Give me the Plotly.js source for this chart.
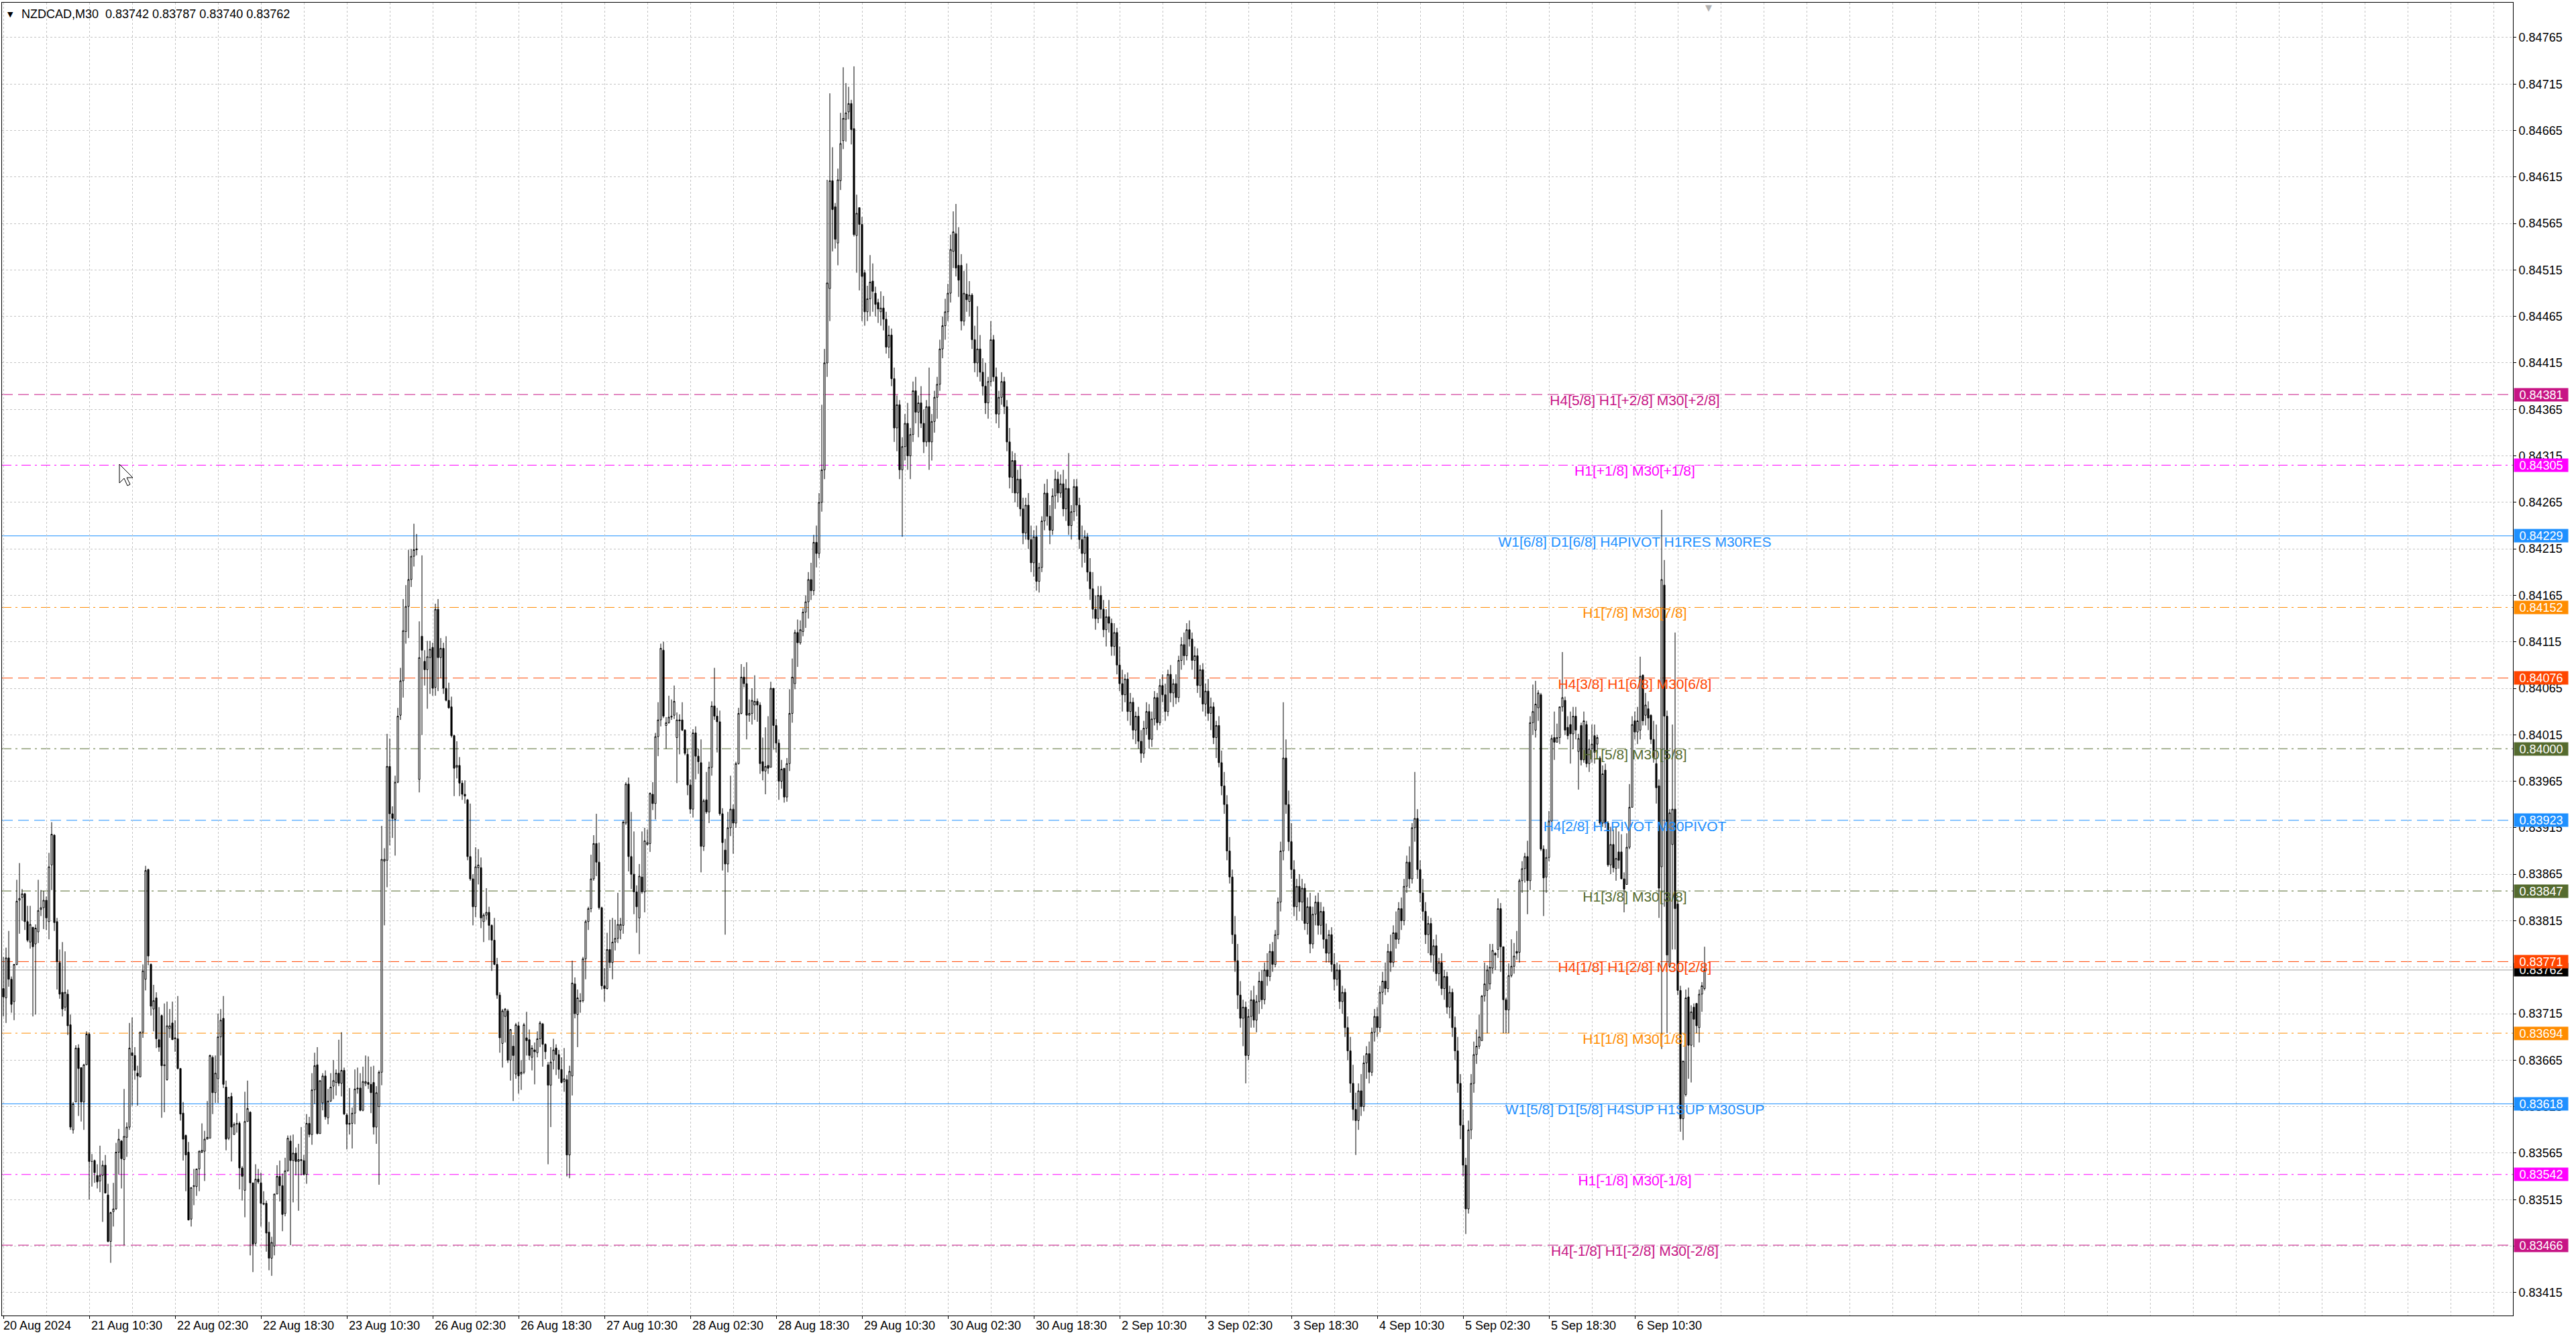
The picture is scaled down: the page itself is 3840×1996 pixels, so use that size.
<!DOCTYPE html>
<html><head><meta charset="utf-8">
<script src="https://cdn.plot.ly/plotly-3.0.1.min.js"></script>
<style>html,body{margin:0;padding:0;background:#fff;}#chart{width:3840px;height:1996px;}</style>
</head><body><div id="chart"></div>
<script>
// NZDCAD M30 candles (bar index 0 = 20 Aug 2024 18:30, last bar = 6 Sep 23:30)
const openP = [
.83742,.83732,.83775,.83752,.83728,.83768,.83837,.83840,.83844,.83814,
.83792,.83808,.83790,.83803,.83827,.83829,.83837,.83814,.83875,.83907,
.83814,.83770,.83738,.83722,.83736,.83703,.83590,.83620,.83678,.83657,
.83620,.83660,.83693,.83556,.83557,.83541,.83535,.83541,.83552,.83520,
.83470,.83502,.83505,.83566,.83578,.83558,.83582,.83593,.83673,.83670,
.83651,.83647,.83695,.83752,.83870,.83768,.83720,.83732,.83687,.83713,
.83659,.83644,.83699,.83705,.83689,.83688,.83656,.83608,.83584,.83566,
.83494,.83529,.83529,.83548,.83566,.83567,.83580,.83581,.83668,.83630,
.83645,.83690,.83710,.83636,.83581,.83626,.83585,.83596,.83597,.83549,
.83525,.83599,.83609,.83533,.83468,.83537,.83533,.83510,.83511,.83480,
.83452,.83465,.83521,.83540,.83530,.83500,.83546,.83578,.83557,.83565,
.83556,.83558,.83557,.83542,.83597,.83585,.83633,.83660,.83586,.83619,
.83648,.83603,.83621,.83637,.83641,.83651,.83640,.83654,.83606,.83596,
.83597,.83608,.83634,.83635,.83611,.83640,.83641,.83639,.83641,.83593,
.83615,.83652,.83879,.83880,.83981,.83930,.83924,.83964,.84036,.84073,
.84126,.84153,.84182,.84207,.84215,.83967,.84121,.84094,.84085,.84098,
.84109,.84066,.84150,.84098,.84108,.84065,.84052,.84045,.84014,.83980,
.83982,.83963,.83951,.83945,.83884,.83860,.83830,.83872,.83872,.83814,
.83821,.83824,.83810,.83794,.83768,.83735,.83683,.83712,.83718,.83665,
.83680,.83650,.83702,.83650,.83652,.83689,.83687,.83668,.83676,.83673,
.83688,.83704,.83682,.83660,.83638,.83665,.83678,.83671,.83655,.83642,
.83644,.83563,.83648,.83747,.83714,.83728,.83729,.83774,.83814,.83828,
.83860,.83898,.83878,.83829,.83745,.83742,.83784,.83770,.83792,.83796,
.83805,.83810,.83920,.83962,.83884,.83865,.83846,.83818,.83862,.83846,
.83897,.83898,.83951,.83941,.84013,.84031,.84106,.84025,.84028,.84034,
.84036,.84012,.84031,.84031,.84020,.83994,.83961,.83935,.84017,.83992,
.83985,.83895,.83945,.83932,.83980,.84046,.84035,.84029,.83930,.83891,
.83876,.83915,.83935,.83920,.83984,.84038,.84077,.84070,.84036,.84038,
.84047,.84051,.84047,.83986,.83976,.83982,.83980,.84065,.84025,.84006,
.83965,.83979,.83948,.83984,.84038,.84070,.84125,.84114,.84126,
.84147,.84158,.84182,.84170,.84222,.84210,.84265,.84300,.84415,.84495,
.84611,.84583,.84544,.84611,.84654,.84677,.84685,.84694,.84667,.84552,
.84582,.84564,.84512,.84470,.84484,.84503,.84490,.84480,.84470,.84474,
.84462,.84432,.84445,.84398,.84345,.84370,.84300,.84325,.84350,.84315,
.84338,.84385,.84362,.84372,.84350,.84330,.84368,.84330,.84352,.84378,
.84392,.84430,.84455,.84470,.84490,.84535,.84554,.84520,.84520,.84460,
.84489,.84481,.84488,.84440,.84415,.84430,.84405,.84390,.84372,.84395,
.84440,.84400,.84360,.84378,.84395,.84368,.84330,.84292,.84310,.84275,
.84290,.84258,.84232,.84262,.84225,.84200,.84228,.84180,.84195,.84245,
.84275,.84250,.84235,.84272,.84290,.84275,.84285,.84258,.84280,.84240,
.84255,.84282,.84262,.84225,.84210,.84228,.84190,.84172,.84150,.84140,
.84165,.84150,.84128,.84142,.84135,.84110,.84125,.84090,.84070,.84058,
.84075,.84040,.84050,.84020,.84035,.84008,.83995,.84022,.84040,.84010,
.84032,.84055,.84028,.84068,.84058,.84040,.84080,.84060,.84070,.84055,
.84095,.84112,.84100,.84128,.84118,.84095,.84100,.84068,.84085,.84048,
.84062,.84038,.84045,.84012,.84025,.83985,.83960,.83940,.83890,.83862,
.83800,.83772,.83735,.83710,.83722,.83670,.83712,.83730,.83708,.83728,
.83750,.83730,.83762,.83755,.83782,.83768,.83800,.83835,.83890,.83990,
.83940,.83900,.83870,.83830,.83852,.83835,.83850,.83812,.83830,.83790,
.83822,.83835,.83810,.83825,.83795,.83780,.83800,.83768,.83752,.83762,
.83728,.83738,.83700,.83675,.83640,.83612,.83600,.83632,.83615,.83662,
.83672,.83652,.83695,.83712,.83700,.83738,.83750,.83742,.83782,.83770,
.83802,.83795,.83828,.83815,.83852,.83878,.83860,.83915,.83925,.83870,
.83845,.83825,.83800,.83812,.83778,.83788,.83758,.83770,.83742,.83755,
.83722,.83738,.83700,.83675,.83640,.83595,.83552,.83505,.83590,.83640,
.83671,.83680,.83686,.83734,.83740,.83747,.83764,.83780,.83784,.83828,
.83787,.83730,.83719,.83756,.83766,.83782,.83781,.83858,.83871,.83884,
.83858,.84028,.84020,.84044,.84058,.83892,.83862,.83883,.83922,.84012,
.84007,.84012,.84045,.84052,.84023,.84026,.84016,.84035,.83997,.84025,
.83988,.84026,.83984,.84000,.84014,.84005,.83990,.83920,.83977,.83920,
.83875,.83897,.83871,.83889,.83889,.83860,.83854,.83894,.83937,.84030,
.84018,.84020,.84079,.84036,.84043,.84036,.84010,.83984,.83960,.83873,
.84176,.84035,.83766,.83897,.83935,.83833,.83740,.83602,.83628,.83733,
.83681,.83722,.83726,.83700,.83736,.83742
];
const highP = [
.83776,.83786,.83804,.83755,.83768,.83859,.83877,.83849,.83845,.83831,
.83831,.83808,.83811,.83859,.83848,.83847,.83841,.83888,.83921,.83908,
.83818,.83784,.83792,.83782,.83741,.83714,.83620,.83681,.83682,.83657,
.83661,.83696,.83695,.83564,.83558,.83553,.83573,.83557,.83563,.83532,
.83502,.83533,.83576,.83591,.83579,.83634,.83598,.83705,.83711,.83679,
.83659,.83696,.83768,.83874,.83871,.83769,.83746,.83738,.83722,.83714,
.83726,.83728,.83720,.83728,.83708,.83734,.83656,.83620,.83585,.83577,
.83528,.83548,.83548,.83568,.83597,.83589,.83621,.83671,.83670,.83670,
.83715,.83720,.83734,.83643,.83625,.83630,.83598,.83608,.83599,.83551,
.83631,.83643,.83610,.83533,.83553,.83548,.83544,.83524,.83514,.83491,
.83475,.83521,.83552,.83557,.83543,.83560,.83584,.83584,.83585,.83571,
.83575,.83593,.83563,.83607,.83604,.83651,.83673,.83679,.83643,.83651,
.83654,.83634,.83651,.83665,.83655,.83687,.83695,.83657,.83608,.83635,
.83614,.83655,.83657,.83651,.83658,.83670,.83669,.83658,.83659,.83637,
.83654,.83917,.83893,.84016,.84011,.83938,.83971,.84044,.84087,.84161,
.84176,.84214,.84215,.84242,.84231,.84137,.84208,.84106,.84116,.84116,
.84114,.84156,.84161,.84119,.84114,.84121,.84071,.84056,.84015,.84008,
.83991,.83966,.83966,.83946,.83941,.83865,.83894,.83892,.83883,.83823,
.83850,.83830,.83811,.83818,.83775,.83738,.83720,.83721,.83720,.83698,
.83692,.83705,.83706,.83665,.83705,.83717,.83698,.83681,.83684,.83696,
.83707,.83705,.83683,.83663,.83679,.83688,.83682,.83676,.83668,.83678,
.83649,.83659,.83772,.83754,.83741,.83737,.83776,.83816,.83830,.83886,
.83907,.83930,.83899,.83830,.83764,.83802,.83816,.83818,.83816,.83845,
.83818,.83923,.83964,.83969,.83932,.83911,.83853,.83876,.83911,.83915,
.83913,.83953,.83964,.84017,.84050,.84113,.84115,.84034,.84057,.84053,
.84068,.84039,.84037,.84050,.84021,.84000,.83967,.84021,.84024,.84000,
.84010,.83946,.83975,.83986,.84051,.84087,.84044,.84041,.83936,.83903,
.83932,.83971,.83940,.83986,.84044,.84091,.84088,.84093,.84053,.84065,
.84079,.84054,.84050,.84012,.84023,.84035,.84072,.84065,.84032,.84010,
.83988,.83979,.83990,.84064,.84097,.84128,.84139,.84138,.84151,
.84165,.84190,.84200,.84230,.84240,.84275,.84370,.84430,.84612,.84705,
.84647,.84587,.84624,.84684,.84733,.84716,.84712,.84698,.84734,.84596,
.84582,.84572,.84515,.84498,.84531,.84522,.84497,.84484,.84492,.84487,
.84470,.84455,.84452,.84410,.84380,.84375,.84335,.84360,.84372,.84345,
.84395,.84400,.84380,.84390,.84365,.84375,.84410,.84360,.84385,.84400,
.84440,.84465,.84484,.84500,.84553,.84578,.84586,.84561,.84532,.84514,
.84522,.84503,.84490,.84455,.84476,.84445,.84420,.84415,.84400,.84460,
.84445,.84410,.84385,.84405,.84400,.84375,.84345,.84320,.84318,.84300,
.84305,.84270,.84270,.84275,.84240,.84235,.84240,.84200,.84250,.84285,
.84290,.84262,.84280,.84300,.84298,.84295,.84300,.84290,.84318,.84262,
.84290,.84290,.84270,.84240,.84235,.84232,.84205,.84190,.84165,.84175,
.84175,.84160,.84150,.84160,.84140,.84135,.84130,.84110,.84085,.84080,
.84082,.84060,.84055,.84040,.84045,.84020,.84030,.84050,.84048,.84040,
.84062,.84060,.84075,.84080,.84070,.84085,.84090,.84075,.84080,.84100,
.84120,.84125,.84135,.84138,.84125,.84110,.84108,.84090,.84092,.84070,
.84075,.84055,.84050,.84030,.84035,.83998,.83975,.83950,.83905,.83870,
.83820,.83790,.83750,.83730,.83728,.83720,.83740,.83745,.83735,.83760,
.83762,.83770,.83780,.83790,.83792,.83805,.83840,.83900,.84050,.84010,
.83955,.83920,.83880,.83860,.83865,.83860,.83855,.83840,.83845,.83830,
.83842,.83845,.83835,.83830,.83812,.83805,.83808,.83780,.83770,.83768,
.83745,.83742,.83712,.83690,.83660,.83630,.83640,.83650,.83670,.83680,
.83685,.83700,.83720,.83722,.83745,.83760,.83770,.83790,.83800,.83810,
.83825,.83835,.83840,.83860,.83885,.83895,.83920,.83975,.83935,.83880,
.83860,.83835,.83820,.83818,.83795,.83800,.83775,.83780,.83762,.83760,
.83745,.83742,.83712,.83690,.83650,.83612,.83560,.83600,.83650,.83685,
.83698,.83714,.83735,.83770,.83767,.83790,.83790,.83781,.83839,.83834,
.83787,.83732,.83769,.83795,.83791,.83804,.83860,.83879,.83888,.83901,
.84035,.84069,.84073,.84063,.84060,.83896,.83892,.83933,.84015,.84040,
.84027,.84045,.84104,.84056,.84035,.84040,.84045,.84045,.84016,.84028,
.84040,.84030,.84010,.84026,.84026,.84015,.83992,.83982,.83984,.83922,
.83916,.83913,.83916,.83911,.83908,.83867,.83909,.83962,.84035,.84040,
.84045,.84099,.84080,.84060,.84051,.84037,.84030,.84026,.83967,.84257,
.84203,.84041,.83935,.84026,.84125,.83838,.83745,.83664,.83741,.83743,
.83724,.83726,.83726,.83741,.83749,.83787
];
const lowP = [
.83712,.83705,.83744,.83716,.83708,.83767,.83801,.83815,.83805,.83792,
.83785,.83712,.83714,.83791,.83820,.83806,.83805,.83795,.83848,.83804,
.83741,.83731,.83712,.83718,.83692,.83590,.83586,.83620,.83605,.83599,
.83590,.83660,.83515,.83529,.83533,.83527,.83523,.83491,.83522,.83469,
.83447,.83486,.83504,.83542,.83527,.83466,.83561,.83590,.83616,.83644,
.83616,.83647,.83689,.83740,.83767,.83713,.83696,.83678,.83674,.83603,
.83609,.83643,.83689,.83687,.83674,.83655,.83600,.83557,.83524,.83493,
.83486,.83509,.83519,.83524,.83565,.83535,.83580,.83581,.83607,.83619,
.83619,.83670,.83635,.83568,.83579,.83556,.83585,.83587,.83526,.83514,
.83496,.83599,.83455,.83437,.83465,.83532,.83486,.83509,.83459,.83439,
.83433,.83455,.83521,.83513,.83481,.83497,.83545,.83466,.83512,.83541,
.83503,.83541,.83541,.83532,.83582,.83574,.83618,.83585,.83586,.83611,
.83601,.83596,.83620,.83623,.83627,.83637,.83626,.83606,.83569,.83585,
.83570,.83596,.83629,.83610,.83610,.83637,.83634,.83608,.83585,.83575,
.83531,.83638,.83810,.83851,.83896,.83904,.83885,.83963,.84031,.84055,
.84113,.84119,.84174,.84196,.84208,.83953,.84015,.84068,.84043,.84059,
.84057,.84057,.84062,.84076,.84059,.84051,.84043,.84012,.83949,.83968,
.83949,.83945,.83941,.83880,.83858,.83810,.83819,.83854,.83807,.83792,
.83816,.83794,.83761,.83767,.83731,.83673,.83657,.83684,.83662,.83643,
.83621,.83645,.83629,.83633,.83650,.83670,.83665,.83654,.83639,.83668,
.83679,.83658,.83666,.83553,.83593,.83655,.83649,.83645,.83640,.83631,
.83540,.83538,.83627,.83710,.83679,.83716,.83727,.83752,.83805,.83824,
.83858,.83863,.83827,.83741,.83728,.83741,.83764,.83752,.83783,.83791,
.83795,.83801,.83918,.83868,.83849,.83822,.83802,.83779,.83844,.83824,
.83896,.83889,.83934,.83924,.83992,.84024,.84033,.84000,.84027,.84031,
.84032,.83963,.83994,.84019,.83993,.83950,.83930,.83926,.83967,.83973,
.83867,.83890,.83930,.83920,.83971,.84031,.83996,.83928,.83869,.83800,
.83867,.83906,.83887,.83915,.83983,.84037,.84066,.84010,.84029,.84026,
.84031,.84029,.83973,.83966,.83951,.83973,.83980,.83999,.83996,.83945,
.83957,.83942,.83943,.83976,.84028,.84064,.84088,.84112,.84121,
.84130,.84140,.84160,.84165,.84195,.84205,.84255,.84290,.84400,.84460,
.84535,.84538,.84520,.84601,.84645,.84653,.84677,.84650,.84551,.84512,
.84493,.84460,.84455,.84460,.84465,.84470,.84465,.84458,.84455,.84450,
.84425,.84420,.84390,.84330,.84320,.84290,.84228,.84310,.84300,.84290,
.84330,.84350,.84335,.84345,.84318,.84325,.84300,.84310,.84340,.84355,
.84385,.84420,.84440,.84460,.84480,.84517,.84508,.84486,.84450,.84455,
.84470,.84465,.84430,.84405,.84400,.84395,.84380,.84360,.84355,.84390,
.84395,.84350,.84345,.84370,.84360,.84320,.84280,.84275,.84265,.84260,
.84250,.84220,.84225,.84215,.84190,.84185,.84170,.84168,.84190,.84235,
.84240,.84220,.84230,.84258,.84265,.84270,.84250,.84245,.84230,.84225,
.84245,.84250,.84215,.84195,.84200,.84180,.84160,.84140,.84128,.84135,
.84140,.84120,.84110,.84125,.84100,.84100,.84080,.84062,.84040,.84050,
.84030,.84025,.84010,.84005,.84000,.83985,.83990,.84015,.84000,.84002,
.84025,.84020,.84025,.84050,.84030,.84035,.84050,.84045,.84048,.84050,
.84085,.84090,.84095,.84110,.84085,.84075,.84060,.84055,.84040,.84035,
.84030,.84020,.84005,.83990,.83980,.83950,.83930,.83880,.83855,.83790,
.83760,.83720,.83700,.83680,.83640,.83665,.83700,.83700,.83695,.83715,
.83720,.83725,.83745,.83750,.83760,.83765,.83795,.83825,.83880,.83930,
.83890,.83860,.83820,.83815,.83825,.83815,.83805,.83800,.83780,.83785,
.83810,.83800,.83800,.83785,.83770,.83770,.83760,.83740,.83745,.83720,
.83715,.83690,.83665,.83630,.83600,.83563,.83590,.83605,.83610,.83645,
.83640,.83648,.83685,.83690,.83695,.83725,.83735,.83738,.83760,.83765,
.83785,.83790,.83805,.83810,.83845,.83850,.83855,.83900,.83860,.83835,
.83815,.83790,.83780,.83770,.83760,.83750,.83745,.83735,.83730,.83715,
.83710,.83690,.83665,.83630,.83580,.83540,.83478,.83500,.83580,.83630,
.83661,.83677,.83686,.83728,.83694,.83741,.83758,.83762,.83775,.83760,
.83694,.83694,.83694,.83754,.83758,.83773,.83770,.83845,.83856,.83822,
.83848,.84015,.84012,.84030,.83890,.83820,.83845,.83879,.83922,.83988,
.84007,.84005,.84040,.84015,.84010,.83984,.84000,.84010,.83956,.83982,
.83985,.83980,.83975,.83985,.83984,.83995,.83918,.83916,.83915,.83873,
.83865,.83867,.83858,.83871,.83860,.83824,.83854,.83892,.83937,.84010,
.84005,.84010,.84025,.84025,.84020,.84005,.83985,.83941,.83818,.83677,
.83830,.83694,.83764,.83784,.83784,.83735,.83588,.83579,.83626,.83645,
.83641,.83679,.83694,.83684,.83717,.83740
];
const closeP = [
.83733,.83775,.83752,.83725,.83768,.83836,.83839,.83844,.83814,.83794,
.83811,.83787,.83807,.83826,.83829,.83837,.83818,.83873,.83908,.83813,
.83771,.83736,.83720,.83738,.83702,.83593,.83618,.83678,.83656,.83620,
.83660,.83693,.83556,.83556,.83544,.83534,.83541,.83552,.83522,.83470,
.83501,.83505,.83566,.83580,.83559,.83583,.83593,.83678,.83670,.83654,
.83648,.83695,.83761,.83869,.83777,.83723,.83729,.83688,.83679,.83659,
.83660,.83702,.83702,.83687,.83688,.83656,.83607,.83580,.83563,.83493,
.83528,.83530,.83548,.83567,.83568,.83580,.83582,.83670,.83630,.83651,
.83690,.83708,.83639,.83580,.83625,.83593,.83596,.83597,.83549,.83540,
.83599,.83613,.83533,.83467,.83537,.83534,.83511,.83511,.83479,.83452,
.83469,.83521,.83540,.83530,.83499,.83546,.83581,.83557,.83565,.83556,
.83558,.83557,.83542,.83597,.83585,.83633,.83659,.83586,.83643,.83648,
.83604,.83621,.83636,.83643,.83651,.83640,.83654,.83607,.83596,.83597,
.83608,.83634,.83635,.83611,.83642,.83642,.83639,.83630,.83593,.83630,
.83652,.83881,.83881,.83981,.83930,.83925,.83964,.84035,.84073,.84127,
.84153,.84182,.84207,.84214,.84214,.84098,.84106,.84085,.84099,.84107,
.84065,.84150,.84098,.84108,.84065,.84052,.84044,.84014,.83979,.83982,
.83963,.83951,.83949,.83884,.83860,.83830,.83873,.83875,.83818,.83821,
.83824,.83810,.83794,.83768,.83735,.83689,.83718,.83720,.83665,.83698,
.83670,.83703,.83648,.83652,.83703,.83686,.83670,.83678,.83674,.83688,
.83705,.83682,.83674,.83638,.83663,.83676,.83671,.83655,.83641,.83645,
.83563,.83653,.83748,.83715,.83732,.83729,.83774,.83814,.83828,.83860,
.83898,.83878,.83829,.83745,.83742,.83784,.83770,.83792,.83796,.83811,
.83811,.83921,.83962,.83884,.83865,.83846,.83830,.83863,.83846,.83901,
.83899,.83952,.83941,.84013,.84031,.84108,.84035,.84028,.84034,.84035,
.84051,.84031,.84030,.84020,.83995,.83961,.83935,.84017,.83992,.83986,
.83895,.83944,.83932,.83980,.84046,.84035,.84029,.83930,.83899,.83876,
.83915,.83935,.83920,.83984,.84038,.84077,.84070,.84036,.84038,.84052,
.84051,.84047,.83984,.83976,.83981,.83979,.84065,.84025,.84006,.83965,
.83978,.83948,.83984,.84038,.84077,.84125,.84114,.84128,.84147,
.84158,.84182,.84170,.84222,.84210,.84265,.84300,.84415,.84501,.84611,
.84580,.84548,.84612,.84651,.84678,.84684,.84694,.84666,.84553,.84576,
.84564,.84508,.84470,.84484,.84502,.84492,.84478,.84473,.84474,.84462,
.84432,.84445,.84398,.84345,.84370,.84300,.84325,.84350,.84315,.84338,
.84385,.84362,.84372,.84350,.84330,.84368,.84330,.84352,.84378,.84392,
.84430,.84455,.84470,.84490,.84537,.84556,.84517,.84504,.84460,.84490,
.84483,.84488,.84440,.84415,.84430,.84405,.84390,.84372,.84395,.84440,
.84400,.84360,.84378,.84395,.84368,.84330,.84292,.84310,.84275,.84290,
.84258,.84232,.84262,.84225,.84200,.84228,.84180,.84195,.84245,.84275,
.84250,.84235,.84272,.84290,.84275,.84285,.84258,.84280,.84240,.84255,
.84282,.84262,.84225,.84210,.84228,.84190,.84172,.84150,.84140,.84165,
.84150,.84128,.84142,.84135,.84110,.84125,.84090,.84070,.84058,.84075,
.84040,.84050,.84020,.84035,.84008,.83995,.84022,.84040,.84010,.84032,
.84055,.84028,.84068,.84058,.84040,.84080,.84060,.84070,.84055,.84095,
.84112,.84100,.84128,.84118,.84095,.84100,.84068,.84085,.84048,.84062,
.84038,.84045,.84012,.84025,.83985,.83960,.83940,.83890,.83862,.83800,
.83772,.83735,.83710,.83722,.83670,.83712,.83730,.83708,.83728,.83750,
.83730,.83762,.83755,.83782,.83768,.83800,.83835,.83890,.83990,.83940,
.83900,.83870,.83830,.83852,.83835,.83850,.83812,.83830,.83790,.83822,
.83835,.83810,.83825,.83795,.83780,.83800,.83768,.83752,.83762,.83728,
.83738,.83700,.83675,.83640,.83612,.83600,.83632,.83615,.83662,.83672,
.83652,.83695,.83712,.83700,.83738,.83750,.83742,.83782,.83770,.83802,
.83795,.83828,.83815,.83852,.83878,.83860,.83915,.83925,.83870,.83845,
.83825,.83800,.83812,.83778,.83788,.83758,.83770,.83742,.83755,.83722,
.83738,.83700,.83675,.83640,.83595,.83552,.83505,.83590,.83640,.83671,
.83680,.83690,.83734,.83747,.83762,.83765,.83783,.83778,.83828,.83787,
.83730,.83719,.83756,.83766,.83777,.83780,.83858,.83871,.83884,.83858,
.84028,.84040,.84048,.84060,.83892,.83861,.83883,.83922,.84011,.84007,
.84012,.84045,.84055,.84020,.84014,.84016,.84035,.84020,.84011,.83988,
.84030,.83984,.84000,.84005,.83996,.84012,.83920,.83973,.83920,.83875,
.83897,.83872,.83882,.83880,.83860,.83849,.83894,.83937,.84026,.84018,
.84030,.84078,.84030,.84047,.84033,.84010,.83990,.83958,.83850,.84182,
.84035,.83778,.83931,.83935,.83828,.83740,.83602,.83664,.83732,.83681,
.83717,.83709,.83702,.83736,.83745,.83762
];

const symbolTitle = "NZDCAD,M30";
const lastQuote = ["0.83742", "0.83787", "0.83740", "0.83762"];
const currentPrice = 0.83762;

const timeLabels = ["20 Aug 2024","21 Aug 10:30","22 Aug 02:30","22 Aug 18:30","23 Aug 10:30","26 Aug 02:30","26 Aug 18:30","27 Aug 10:30","28 Aug 02:30","28 Aug 18:30","29 Aug 10:30","30 Aug 02:30","30 Aug 18:30","2 Sep 10:30","3 Sep 02:30","3 Sep 18:30","4 Sep 10:30","5 Sep 02:30","5 Sep 18:30","6 Sep 10:30"];
const timeLabelBars = [0,32,64,96,128,160,192,224,256,288,320,352,384,416,448,480,512,544,576,608];

const priceTicks = [0.84765,0.84715,0.84665,0.84615,0.84565,0.84515,0.84465,0.84415,0.84365,0.84315,0.84265,0.84215,0.84165,0.84115,0.84065,0.84015,0.83965,0.83915,0.83865,0.83815,0.83765,0.83715,0.83665,0.83615,0.83565,0.83515,0.83465,0.83415];

const levelPrices = [0.84381,0.84305,0.84229,0.84152,0.84076,0.84000,0.83923,0.83847,0.83771,0.83694,0.83618,0.83542,0.83466];
const levelTexts = ["H4[5/8] H1[+2/8] M30[+2/8]","H1[+1/8] M30[+1/8]","W1[6/8] D1[6/8] H4PIVOT H1RES M30RES","H1[7/8] M30[7/8]","H4[3/8] H1[6/8] M30[6/8]","H1[5/8] M30[5/8]","H4[2/8] H1PIVOT M30PIVOT","H1[3/8] M30[3/8]","H4[1/8] H1[2/8] M30[2/8]","H1[1/8] M30[1/8]","W1[5/8] D1[5/8] H4SUP H1SUP M30SUP","H1[-1/8] M30[-1/8]","H4[-1/8] H1[-2/8] M30[-2/8]"];
const levelColors = ["#C71585","#FF00FF","#1E90FF","#FF8C00","#FF4500","#556B2F","#1E90FF","#556B2F","#FF4500","#FF8C00","#1E90FF","#FF00FF","#C71585"];
const levelStyles = ["dash","dashdot","solid","dashdot","dash","dashdot","dash","dashdot","dash","dashdot","solid","dashdot","dash"];

// ---- drawing ----
const FONT = "Liberation Sans, Arial, sans-serif";
const labelBar = 608;       // level labels are centred on the 6 Sep 10:30 bar
const dashMap = {solid: "solid", dash: "16px,8px", dashdot: "14px,6px,3px,6px"};
const bars = openP.map((v, i) => i);
const gridBars = [];
for (let b = 0; b <= 928; b += 16) gridBars.push(b);

// level names drawn first so the candles sit on top of them (as in the terminal)
const levelTextTrace = {
  type: "scatter", mode: "text", x: levelPrices.map(() => labelBar), y: levelPrices,
  text: levelTexts, textposition: "bottom center", cliponaxis: false,
  textfont: {family: FONT, size: 21, color: levelColors},
  hoverinfo: "skip", showlegend: false
};
const candleTrace = {
  type: "candlestick", x: bars, open: openP, high: highP, low: lowP, close: closeP,
  increasing: {line: {color: "#000000", width: 1}, fillcolor: "#ffffff"},
  decreasing: {line: {color: "#000000", width: 1}, fillcolor: "#000000"},
  whiskerwidth: 0, hoverinfo: "skip", showlegend: false
};

const shapes = [];
shapes.push({type: "line", xref: "paper", x0: 0, x1: 1, yref: "y", y0: currentPrice, y1: currentPrice,
  line: {color: "#a0a0a0", width: 1}, layer: "below"});
levelPrices.forEach((p, i) => {
  shapes.push({type: "line", xref: "paper", x0: 0, x1: 1, yref: "y", y0: p, y1: p,
    line: {color: levelColors[i], width: 1, dash: dashMap[levelStyles[i]]}, layer: "below"});
});
// mouse pointer left on the chart
shapes.push({type: "path", xref: "paper", xsizemode: "pixel", xanchor: 0, yref: "paper", ysizemode: "pixel", yanchor: 1,
  path: "M175,-688 L175,-716 L182,-709 L187,-720 L191,-718 L186,-708 L195,-708 Z",
  fillcolor: "#ffffff", line: {color: "#000000", width: 1}});

const annotations = [];
annotations.push({xref: "paper", x: 0, xanchor: "left", xshift: 6, yref: "paper", y: 1, yanchor: "top", yshift: -9,
  text: "\u25BC", showarrow: false, font: {family: "DejaVu Sans, sans-serif", size: 11, color: "#000"}});
annotations.push({xref: "paper", x: 0, xanchor: "left", xshift: 27, yref: "paper", y: 1, yanchor: "top", yshift: -5,
  text: symbolTitle + "\u00a0\u00a0" + lastQuote.join(" "), showarrow: false, font: {family: FONT, size: 18, color: "#000"}});
annotations.push({xref: "x", x: bars.length + 0.5, xanchor: "center", yref: "paper", y: 1, yanchor: "top", yshift: 2,
  text: "\u25BC", showarrow: false, font: {family: "DejaVu Sans, sans-serif", size: 13, color: "#b0b0b0"}});
timeLabels.forEach((t, i) => {
  annotations.push({xref: "x", x: timeLabelBars[i], xanchor: "left", xshift: i === 0 ? -2 : 1, yref: "paper", y: 0, yanchor: "top", yshift: -3,
    text: t, showarrow: false, font: {family: FONT, size: 18, color: "#000"}});
});
// price boxes on the scale
annotations.push({xref: "paper", x: 1, xanchor: "left", xshift: 1, yref: "y", y: currentPrice, yanchor: "middle",
  text: currentPrice.toFixed(5), showarrow: false, bgcolor: "#000000", width: 80, height: 19, borderpad: 0,
  font: {family: FONT, size: 18, color: "#ffffff"}});
levelPrices.forEach((p, i) => {
  annotations.push({xref: "paper", x: 1, xanchor: "left", xshift: 1, yref: "y", y: p, yanchor: "middle",
    text: p.toFixed(5), showarrow: false, bgcolor: levelColors[i], width: 80, height: 19, borderpad: 0,
    font: {family: FONT, size: 18, color: "#ffffff"}});
});

const layout = {
  width: 3840, height: 1996,
  margin: {l: 3, r: 94, t: 4, b: 35, pad: 0},
  paper_bgcolor: "#ffffff", plot_bgcolor: "#ffffff",
  showlegend: false, hovermode: false, boxgap: 0.25,
  xaxis: {
    type: "linear", range: [-0.5, 935.25], rangeslider: {visible: false},
    tickmode: "array", tickvals: timeLabelBars, showticklabels: false,
    ticks: "outside", ticklen: 4, tickcolor: "#000",
    showgrid: true, gridcolor: "#c4c4c4", gridwidth: 1, griddash: "3px,3px",
    minor: {tickmode: "array", tickvals: gridBars, showgrid: true, gridcolor: "#c4c4c4", gridwidth: 1, griddash: "3px,3px", ticks: ""},
    showline: true, mirror: true, linecolor: "#000", linewidth: 1, zeroline: false
  },
  yaxis: {
    side: "right", range: [0.833903, 0.848025],
    tickmode: "array", tickvals: priceTicks, ticktext: priceTicks.map(v => v.toFixed(5)),
    ticks: "outside", ticklen: 4, tickcolor: "#000",
    tickfont: {family: FONT, size: 18, color: "#000"},
    showgrid: true, gridcolor: "#c4c4c4", gridwidth: 1, griddash: "3px,3px",
    showline: true, mirror: true, linecolor: "#000", linewidth: 1, zeroline: false
  },
  shapes: shapes, annotations: annotations
};

Plotly.newPlot("chart", [levelTextTrace, candleTrace], layout, {displayModeBar: false, staticPlot: true});
</script>
</body></html>
